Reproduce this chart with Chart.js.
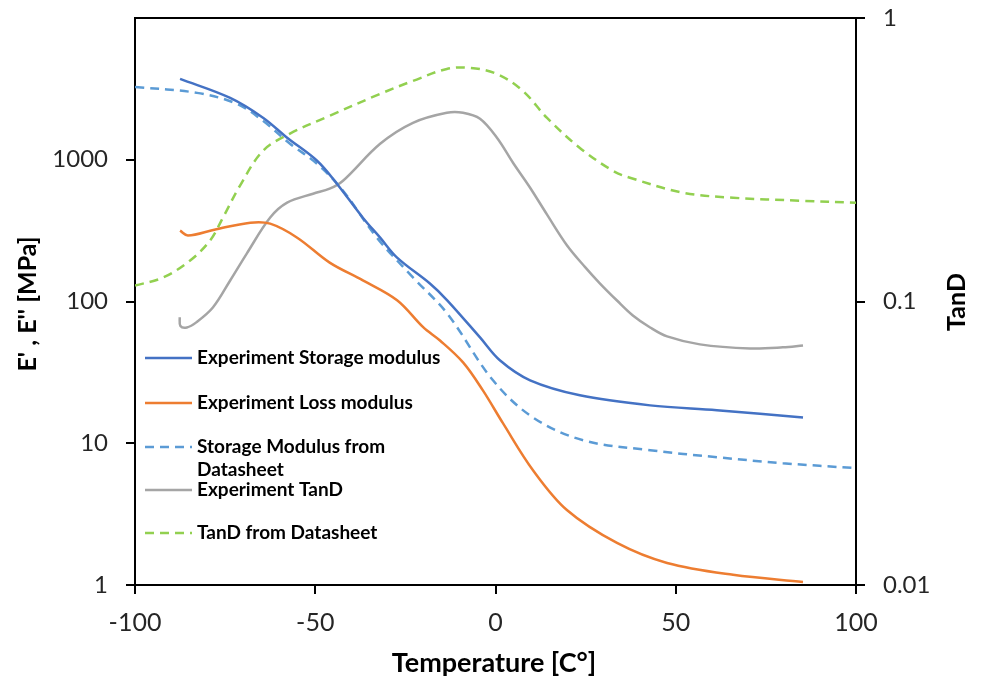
<!DOCTYPE html>
<html>
<head>
<meta charset="utf-8">
<script src="https://cdn.jsdelivr.net/npm/chart.js@4.4.0/dist/chart.umd.min.js"></script>
<style>
  html, body { margin: 0; padding: 0; background: #fff; }
  #wrap { width: 988px; height: 682px; position: relative; }
</style>
</head>
<body>
<div id="wrap"><canvas id="myChart"></canvas></div>
<script>
// tick values
const xTicks = [-100, -50, 0, 50, 100];
const leftTicks = [1, 10, 100, 1000];
const rightTicks = [0.01, 0.1, 1];

// Experiment Storage modulus (MPa)
const storageExpT = [-87.5, -73.6, -64.5, -57.8, -49.5, -44, -36.8, -32, -27.3, -18.2, -13.4, -4.3, 1.2, 9.6, 23.4, 42.9, 61.4, 85.3];
const storageExpE = [3720, 2730, 1980, 1430, 984, 678, 390, 282, 204, 134, 102, 55.8, 38.5, 27.8, 21.8, 18.5, 17.1, 15.2];

// Experiment Loss modulus (MPa)
const lossExpT = [-87.5, -85.3, -78, -68, -62.5, -55, -46, -36.8, -27.3, -20, -15.4, -9, -3.5, 2.1, 10.4, 19.8, 33.7, 47.6, 65.9, 85.3];
const lossExpE = [316, 292, 321, 360, 354, 282, 188, 141, 102, 65.6, 53.1, 37.2, 23.6, 13.8, 6.45, 3.38, 1.98, 1.43, 1.18, 1.05];

// Storage Modulus from Datasheet (MPa)
const storageDsT = [-100, -82.8, -71.7, -64.5, -57, -49.5, -42.3, -32.9, -22.9, -13.4, -0.7, 10.4, 24.3, 42.9, 61.4, 79.7, 100];
const storageDsE = [3266, 2963, 2479, 1882, 1297, 937, 605, 282, 148, 82.3, 27.8, 15.2, 10.5, 8.93, 7.97, 7.23, 6.67];

// Experiment TanD
const tanExpT = [-87.6, -87.4, -85.6, -83, -78.4, -73.6, -69, -62.5, -57.8, -50.6, -46, -42.3, -32, -22.9, -13.5, -9, -4.3, 0.4, 4.9, 9.6, 14.3, 19.8, 24.8, 29, 33.7, 38.1, 42.9, 47.6, 56.7, 70.6, 79.7, 85.3];
const tanExpD = [0.088, 0.082, 0.081, 0.0844, 0.0952, 0.1186, 0.1476, 0.1977, 0.2231, 0.240, 0.250, 0.2667, 0.360, 0.4268, 0.463, 0.463, 0.441, 0.378, 0.308, 0.252, 0.2025, 0.158, 0.1325, 0.1157, 0.1008, 0.0893, 0.081, 0.0753, 0.0706, 0.0683, 0.0689, 0.070];

// TanD from Datasheet
const tanDsT = [-100, -92.2, -84.7, -79.2, -75.6, -70.9, -64.5, -57, -46, -32, -22.9, -13.5, -7.1, 0.4, 7.6, 14.3, 23.4, 32.6, 37.3, 52, 65.9, 84.5, 100];
const tanDsD = [0.1138, 0.1215, 0.1395, 0.164, 0.1977, 0.256, 0.340, 0.391, 0.452, 0.540, 0.600, 0.661, 0.667, 0.635, 0.553, 0.444, 0.348, 0.289, 0.2733, 0.242, 0.2323, 0.2268, 0.223];

const seriesNames = ["Experiment Storage modulus", "Experiment Loss modulus", "Storage Modulus from Datasheet", "Experiment TanD", "TanD from Datasheet"];

function pts(xs, ys) {
  return xs.map((x, i) => ({ x: x, y: ys[i] }));
}

const FONT = "Lato, 'Open Sans', sans-serif";

// legend, axis titles and top frame line
const extras = {
  id: "extras",
  afterDraw(chart) {
    const ctx = chart.ctx;
    const a = chart.chartArea;
    ctx.save();
    // top frame
    ctx.strokeStyle = "#000";
    ctx.lineWidth = 2;
    ctx.beginPath();
    ctx.moveTo(a.left - 1, a.top);
    ctx.lineTo(a.right + 9, a.top);
    ctx.stroke();

    // legend
    const rows = [
      { y: 358, lines: ["Experiment Storage modulus"] },
      { y: 403, lines: ["Experiment Loss modulus"] },
      { y: 447, lines: ["Storage Modulus from", "Datasheet"] },
      { y: 490, lines: ["Experiment TanD"] },
      { y: 533, lines: ["TanD from Datasheet"] }
    ];
    ctx.font = "bold 19px " + FONT;
    ctx.textBaseline = "middle";
    ctx.textAlign = "left";
    rows.forEach((r, i) => {
      const ds = chart.data.datasets[i];
      ctx.strokeStyle = ds.borderColor;
      ctx.lineWidth = 2.5;
      ctx.setLineDash(ds.borderDash || []);
      ctx.beginPath();
      ctx.moveTo(145, r.y);
      ctx.lineTo(192, r.y);
      ctx.stroke();
      ctx.setLineDash([]);
      ctx.fillStyle = "#000";
      r.lines.forEach((t, k) => ctx.fillText(t, 197, r.y + k * 23));
    });

    // axis titles
    ctx.fillStyle = "#000";
    ctx.font = "bold 27px " + FONT;
    ctx.textAlign = "center";
    ctx.fillText("Temperature [C°]", 494, 663);

    ctx.font = "bold 25px " + FONT;
    ctx.save();
    ctx.translate(28, 304);
    ctx.rotate(-Math.PI / 2);
    ctx.fillText("E' , E'' [MPa]", 0, 0);
    ctx.restore();

    ctx.save();
    ctx.translate(957, 302);
    ctx.rotate(-Math.PI / 2);
    ctx.fillText("TanD", 0, 0);
    ctx.restore();

    ctx.restore();
  }
};

const ctx = document.getElementById("myChart").getContext("2d");
const myChart = new Chart(ctx, {
  type: "line",
  data: {
    datasets: [
      {
        label: seriesNames[0],
        data: pts(storageExpT, storageExpE),
        borderColor: "#4472C4",
        borderWidth: 2.5,
        yAxisID: "y"
      },
      {
        label: seriesNames[1],
        data: pts(lossExpT, lossExpE),
        borderColor: "#ED7D31",
        borderWidth: 2.5,
        yAxisID: "y"
      },
      {
        label: seriesNames[2],
        data: pts(storageDsT, storageDsE),
        borderColor: "#5B9BD5",
        borderWidth: 2.5,
        borderDash: [9, 6],
        yAxisID: "y"
      },
      {
        label: seriesNames[3],
        data: pts(tanExpT, tanExpD),
        borderColor: "#A5A5A5",
        borderWidth: 2.5,
        yAxisID: "y2"
      },
      {
        label: seriesNames[4],
        data: pts(tanDsT, tanDsD),
        borderColor: "#92D050",
        borderWidth: 2.5,
        borderDash: [9, 6],
        yAxisID: "y2"
      }
    ]
  },
  options: {
    responsive: true,
    maintainAspectRatio: false,
    animation: false,
    layout: { padding: { top: 18, left: 0, right: 0, bottom: 0 } },
    elements: {
      point: { radius: 0 },
      line: { tension: 0.35, fill: false }
    },
    plugins: {
      legend: { display: false },
      tooltip: { enabled: false }
    },
    scales: {
      x: {
        type: "linear",
        min: -100,
        max: 100,
        afterBuildTicks: s => { s.ticks = xTicks.map(v => ({ value: v })); },
        afterFit: s => { s.height = 97; s.paddingLeft = 0; s.paddingRight = 0; },
        ticks: { color: "#262626", font: { family: FONT, size: 25 }, padding: 14, maxRotation: 0 },
        grid: { drawOnChartArea: false, tickLength: 9, color: "#000", lineWidth: 2 },
        border: { display: true, color: "#000", width: 2 }
      },
      y: {
        type: "logarithmic",
        position: "left",
        min: 1,
        max: 10000,
        afterBuildTicks: s => { s.ticks = leftTicks.map(v => ({ value: v })); },
        afterFit: s => { s.width = 135; s.paddingTop = 0; s.paddingBottom = 0; },
        ticks: { color: "#262626", font: { family: FONT, size: 24 }, padding: 18, callback: v => String(v) },
        grid: { drawOnChartArea: false, tickLength: 9, color: "#000", lineWidth: 2 },
        border: { display: true, color: "#000", width: 2 }
      },
      y2: {
        type: "logarithmic",
        position: "right",
        min: 0.01,
        max: 1,
        afterBuildTicks: s => { s.ticks = rightTicks.map(v => ({ value: v })); },
        afterFit: s => { s.width = 132; s.paddingTop = 0; s.paddingBottom = 0; },
        ticks: { color: "#262626", font: { family: FONT, size: 24 }, padding: 18, callback: v => String(v) },
        grid: { drawOnChartArea: false, tickLength: 9, color: "#000", lineWidth: 2 },
        border: { display: true, color: "#000", width: 2 }
      }
    }
  },
  plugins: [extras]
});
</script>
</body>
</html>
